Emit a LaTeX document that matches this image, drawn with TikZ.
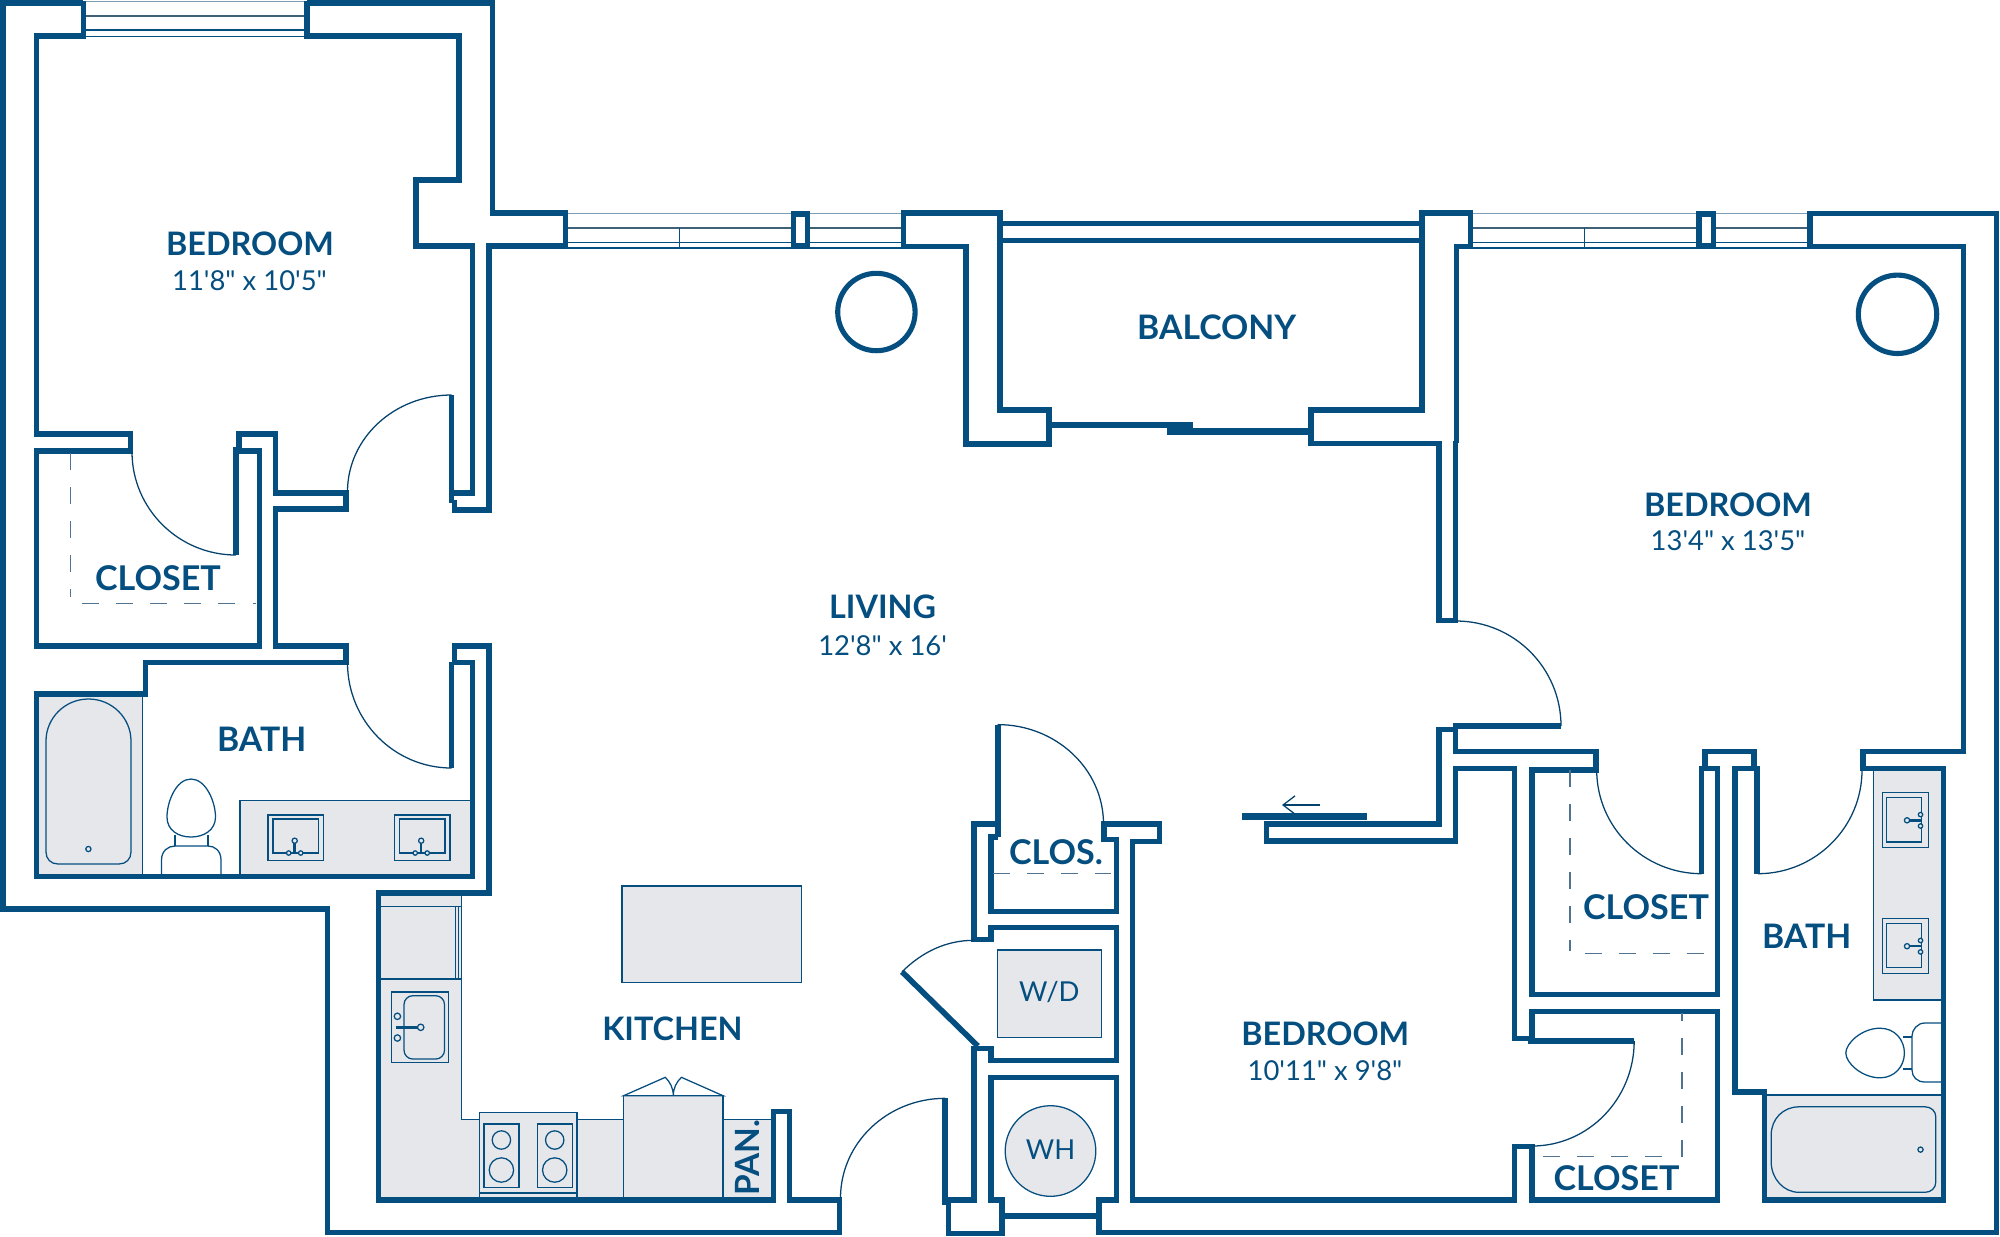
\documentclass[tikz,border=0pt]{standalone}
\usepackage{fontspec}
\newfontfamily\labfont{Lato}
\usetikzlibrary{arrows.meta}
\definecolor{wallblue}{HTML}{054E80}
\definecolor{fixgray}{HTML}{E5E7EB}
\definecolor{dashblue}{HTML}{4F7391}
\definecolor{winlight}{HTML}{7F9DB3}
\definecolor{windark}{HTML}{3F6177}
\newcommand{\qarc}[6]{%
  \pgfmathsetmacro\cax{#1+0.5523*(#3-#5)}%
  \pgfmathsetmacro\cay{#2+0.5523*(#4-#6)}%
  \pgfmathsetmacro\cbx{#3+0.5523*(#1-#5)}%
  \pgfmathsetmacro\cby{#4+0.5523*(#2-#6)}%
  \draw[hair] (#1,#2) .. controls (\cax,\cay) and (\cbx,\cby) .. (#3,#4);}
\newcommand{\winlines}[2]{%
  \draw[winl] (#1,213.5) -- (#2,213.5);
  \draw[wind] (#1,227.7) -- (#2,227.7);
  \draw[winm] (#1,242.3) -- (#2,242.3);
  \draw[winm] (#1,248) -- (#2,248);}
\newcommand{\bathsink}[1]{%
  \draw[fixture] (#1,815) rectangle +(55.5,45.7);
  \draw[fixline] (#1+5,819) rectangle +(45.5,34);
  \draw[fixline,fill=fixgray] (#1+26.7,840.7) circle (2.6);
  \draw[wallblue,line width=0.7pt] (#1+26.7,843.3) -- (#1+26.7,853);
  \draw[fixline,fill=fixgray] (#1+20.7,853) circle (2.2);
  \draw[fixline,fill=fixgray] (#1+32.7,853) circle (2.2);}
\newcommand{\sidesink}[1]{%
  \draw[fixture] (1882.2,#1) rectangle +(46.3,55.4);
  \draw[fixline] (1886.8,#1+5.1) rectangle +(34.8,44.5);
  \draw[wallblue,line width=0.7pt] (1907,#1+28) -- (1920.5,#1+28);
  \draw[fixline,fill=fixgray] (1907,#1+28) circle (2.6);
  \draw[fixline,fill=fixgray] (1920.5,#1+22.3) circle (2.2);
  \draw[fixline,fill=fixgray] (1920.5,#1+33.7) circle (2.2);}
\tikzset{
  wall/.style={draw=wallblue,line width=1.48pt,miter limit=10},
  leaf/.style={draw=wallblue,line width=1.6pt},
  hair/.style={draw=wallblue!85!black,line width=0.36pt},
  fixture/.style={draw=wallblue,line width=0.36pt,fill=fixgray},
  fixline/.style={draw=wallblue,line width=0.36pt},
  winl/.style={draw=winlight,line width=0.3pt},
  wind/.style={draw=windark,line width=0.55pt},
  winm/.style={draw=wallblue,line width=0.36pt},
  dashline/.style={draw=dashblue,line width=0.38pt,dash pattern=on 4.84pt off 4.84pt},
  roomname/.style={text=wallblue,inner sep=0pt,font=\labfont\bfseries\fontsize{#1}{11}\selectfont},
  roomname/.default=9.2,
  roomdim/.style={text=wallblue,inner sep=0pt,font=\labfont\fontsize{7.8}{9}\selectfont},
  unitname/.style={text=wallblue,inner sep=0pt,font=\labfont\fontsize{7.8}{9}\selectfont},
}
\begin{document}
\begin{tikzpicture}[x=0.01cm,y=-0.01cm]
\useasboundingbox (0,0) rectangle (2000,1236);
\fill[white] (0,0) rectangle (2000,1236);

% ---------- fills and fixtures
% left bath
\fill[fixgray] (36.4,694) rectangle (142.7,876.7);
\draw[fixline] (142.7,694) -- (142.7,876.7);
\draw[fixture] (46,741) .. controls (46,718) and (65,699) .. (88.5,699) .. controls (112,699) and (131,718) .. (131,741) -- (131,852) .. controls (131,859) and (126,864) .. (119,864) -- (58,864) .. controls (51,864) and (46,859) .. (46,852) -- cycle;
\draw[fixline] (88.4,849) circle (2.6);
\draw[fixline] (191,779) .. controls (176,779) and (167,802) .. (167,817) .. controls (167,830) and (178,837) .. (191,837) .. controls (204,837) and (215.5,830) .. (215.5,817) .. controls (215.5,802) and (206,779) .. (191,779) -- cycle;
\draw[fixline] (175,835) -- (175,846) (208,835) -- (208,846);
\draw[fixline] (161.5,876) -- (161.5,860) .. controls (161.5,851) and (168,846) .. (175,846) -- (208,846) .. controls (215,846) and (221,851) .. (221,860) -- (221,876);
\draw[fixture] (240,876.7) -- (240,800.7) -- (472.6,800.7) -- (472.6,876.7);
\bathsink{268}
\bathsink{394.5}
% kitchen
\draw[fixture] (378.3,893) -- (461.7,893) -- (461.7,1119.3) -- (773.6,1119.3) -- (773.6,1200) -- (378.3,1200) -- cycle;
\draw[fixline] (378.3,906.7) -- (461.7,906.7) (378.3,979) -- (461.7,979) (455.6,906.7) -- (455.6,979) (458.3,906.7) -- (458.3,979);
\draw[fixline] (391.3,992) rectangle (448.3,1062.7);
\draw[fixline,rounded corners=2.5] (404,995.7) rectangle (444.5,1059);
\draw[fixline,fill=fixgray] (397.4,1016.3) circle (3.2);
\draw[fixline,fill=fixgray] (397.4,1038) circle (3.2);
\draw[wallblue,line width=0.7pt] (396,1027.3) -- (417.5,1027.3);
\draw[fixline,fill=fixgray] (420.7,1027.3) circle (3.2);
\draw[fixture] (479.7,1200) -- (479.7,1112.3) -- (576.9,1112.3) -- (576.9,1200);
\draw[fixline] (479.7,1193) -- (576.9,1193);
\draw[fixline] (483.9,1124) rectangle (519,1187.3);
\draw[fixline] (537.5,1124) rectangle (572.7,1187.3);
\draw[fixline] (501.4,1140) circle (9.2) (501.4,1170) circle (12.2);
\draw[fixline] (554.7,1140) circle (9.2) (554.7,1170) circle (12.2);
\draw[fixture] (623.6,1200) -- (623.6,1095.7) -- (723,1095.7) -- (723,1200);
\draw[fixline,fill=white] (623.6,1095.7) -- (665.3,1077.3) .. controls (670,1082) and (673.3,1088) .. (673.3,1095.7) .. controls (673.3,1088) and (676.5,1082) .. (681.4,1077.3) -- (723,1095.7) -- cycle;
\draw[fixture] (622,886) rectangle (801.5,982.3);
% W/D and WH
\draw[fixture] (997.3,950) rectangle (1101.8,1037.4);
\draw[fixture] (1050.5,1151) circle (45.3);
% right bath
\draw[fixture] (1941.5,770) -- (1873.4,770) -- (1873.4,1000) -- (1941.5,1000);
\sidesink{792.3}
\sidesink{918.2}
\draw[fixline] (1845.8,1053) .. controls (1845.8,1043) and (1862,1028.2) .. (1880,1028.2) .. controls (1895,1028.2) and (1904.4,1040) .. (1904.4,1053) .. controls (1904.4,1066) and (1895,1077.8) .. (1880,1077.8) .. controls (1862,1077.8) and (1845.8,1063) .. (1845.8,1053) -- cycle;
\draw[fixline] (1903,1037) -- (1912,1037) (1903,1069) -- (1912,1069);
\draw[fixline] (1941.5,1023) -- (1925,1023) .. controls (1917,1023) and (1912,1030) .. (1912,1036) -- (1912,1070) .. controls (1912,1077) and (1917,1082) .. (1925,1082) -- (1941.5,1082);
\fill[fixgray] (1764.3,1094.9) rectangle (1941.5,1200);
\draw[fixline] (1764.3,1094.9) -- (1941.5,1094.9);
\draw[fixture] (1771.2,1135) .. controls (1771.2,1119) and (1783,1106.8) .. (1799,1106.8) -- (1925,1106.8) .. controls (1931,1106.8) and (1935.8,1111) .. (1935.8,1117) -- (1935.8,1182) .. controls (1935.8,1188) and (1931,1192.3) .. (1925,1192.3) -- (1799,1192.3) .. controls (1783,1192.3) and (1771.2,1178) .. (1771.2,1162) -- cycle;
\draw[fixline] (1920.5,1149.6) circle (2.6);

% ---------- windows
\draw[winl] (83.4,1.7) -- (307,1.7);
\draw[wind] (83.4,15.7) -- (307,15.7);
\draw[winm] (83.4,30) -- (307,30);
\draw[winm] (83.4,36.5) -- (307,36.5);
\winlines{565.6}{903.6}
\draw[winm] (679.4,227.7) -- (679.4,248);
\draw[wall,fill=white] (793.5,214) rectangle (807.5,246);
\winlines{1470.8}{1810}
\draw[winm] (1584.8,227.7) -- (1584.8,248);
\draw[wall,fill=white] (1699,214) rectangle (1713.3,246);

% ---------- walls
\draw[wall] (83.4,3) -- (3,3) -- (3,909) -- (327.6,909) -- (327.6,1232.7) -- (839.4,1232.7) -- (839.4,1200) -- (789.7,1200) -- (789.7,1111.7) -- (773.6,1111.7) -- (773.6,1200) -- (378.3,1200) -- (378.3,893) -- (489,893) -- (489,646) -- (454.6,646) -- (454.6,662);
\draw[wall] (307,3) -- (492.5,3) -- (492.5,213) -- (565.6,213) -- (565.6,246) -- (489,246) -- (489,510) -- (454.6,510) -- (454.6,500);
\draw[wall] (83.4,0.5) -- (83.4,36) -- (36.4,36) -- (36.4,434) -- (130.5,434) -- (130.5,451) -- (36.4,451) -- (36.4,646) -- (259.5,646) -- (259.5,451) -- (238,451);
\draw[wall] (239,448) -- (239,434) -- (275.5,434) -- (275.5,493) -- (346,493) -- (346,509) -- (275.5,509) -- (275.5,646) -- (346,646) -- (346,662.7) -- (145.4,662.7) -- (145.4,694) -- (36.4,694) -- (36.4,876.7) -- (472.6,876.7) -- (472.6,662.3) -- (451.6,662.3);
\draw[wall] (307,0.5) -- (307,36) -- (459,36) -- (459,180) -- (416,180) -- (416,246) -- (472.6,246) -- (472.6,493) -- (451.6,493);
\draw[wall] (903.6,246.7) -- (903.6,213) -- (1000,213) -- (1000,410) -- (1049,410) -- (1049,444) -- (966,444) -- (966,246.7) -- cycle;
\draw[wall] (1000,223.7) -- (1422,223.7) (1000,240.3) -- (1422,240.3);
\draw[wall] (1456.3,443) -- (1456.3,246.7) -- (1470.8,246.7) -- (1470.8,213) -- (1422,213) -- (1422,410) -- (1311,410) -- (1311,443.7) -- (1439,443.7) -- (1439,620.7) -- (1455.3,620.7) -- (1455.3,441);
\draw[wall] (1810,246.7) -- (1810,213.3) -- (1996.3,213.3) -- (1996.3,1232.7) -- (1099,1232.7) -- (1099,1200) -- (1116.3,1200) -- (1116.3,1077.8) -- (991,1077.8) -- (991,1200) -- (1001.9,1200) -- (1001.9,1233.3) -- (948.3,1233.3) -- (948.3,1200) -- (974,1200) -- (974,1048.7) -- (991,1048.7) -- (991,1060.7) -- (1116.3,1060.7) -- (1116.3,927.4) -- (991,927.4) -- (991,939.3) -- (974,939.3) -- (974,824) -- (997,824);
\draw[wall] (1001.9,1216) -- (1099,1216);
\draw[wall] (997.7,837) -- (991,837) -- (991,911.3) -- (1116.3,911.3) -- (1116.3,839.5) -- (1104,839.5) -- (1104,824) -- (1159.6,824) -- (1159.6,841.2) -- (1132.8,841.2) -- (1132.8,1200) -- (1514.8,1200) -- (1514.8,1146.8) -- (1532,1146.8) -- (1532,1200) -- (1717.6,1200) -- (1717.6,1011.8) -- (1532,1011.8) -- (1532,1038.5) -- (1514.8,1038.5) -- (1514.8,768.4) -- (1455.5,768.4) -- (1455.5,841) -- (1266.7,841) -- (1266.7,824) -- (1439,824) -- (1439,729.3) -- (1455.3,729.3);
\draw[wall] (1455.3,726) -- (1455.3,751.5) -- (1596,751.5) -- (1596,770) -- (1532,770) -- (1532,994.7) -- (1717.6,994.7) -- (1717.6,768.4) -- (1702,768.4);
\draw[wall] (1705,766) -- (1705,751.3) -- (1754,751.3) -- (1754,768.4);
\draw[wall] (1756.7,768.4) -- (1734.9,768.4) -- (1734.9,1092) -- (1764.3,1092) -- (1764.3,1200) -- (1943.4,1200) -- (1943.4,768.4) -- (1863,768.4) -- (1863,751.3) -- (1963.7,751.3) -- (1963.7,246.7) -- (1810,246.7);

% ---------- door leaves
\draw[leaf] (451.6,395) -- (451.6,503);
\draw[leaf] (451.6,662) -- (451.6,768);
\draw[leaf] (236,447) -- (236,555);
\draw[leaf] (997.7,724.6) -- (997.7,837);
\draw[leaf] (945.2,1098.3) -- (945.2,1205.3);
\draw[leaf] (902,971.8) -- (977.8,1046);
\draw[leaf,line width=1.9pt] (1453.3,726) -- (1561,726);
\draw[leaf] (1701.6,766) -- (1701.6,873.7);
\draw[leaf] (1756.7,766) -- (1756.7,873.7);
\draw[leaf] (1528,1040.8) -- (1634.2,1040.8);
\draw[wallblue,line width=1.95pt] (1241.8,816.2) -- (1367,816.2);
\draw[wallblue,line width=1.6pt] (1052,425) -- (1193,425);
\draw[wallblue,line width=1.9pt] (1167.3,431.7) -- (1309.7,431.7);
\draw[hair,-{Straight Barb[length=3.4pt,width=5.2pt]}] (1320,805) -- (1282,805);

% ---------- door swings
\qarc{451.6}{395}{347.5}{491.7}{451.6}{491.7}
\qarc{132}{451.7}{236}{555}{236}{451.7}
\qarc{347.5}{662.7}{451.6}{768}{451.6}{662.7}
\qarc{997.7}{724.6}{1103.5}{824}{997.7}{824}
\qarc{945.2}{1098.3}{840.5}{1198}{945.2}{1198}
\draw[hair] (902,971.8) .. controls (922,952) and (946,940.3) .. (974,940.3);
\qarc{1456}{621}{1561}{726}{1456}{726}
\qarc{1596.7}{770}{1701.6}{873.7}{1701.6}{770}
\qarc{1862}{770}{1757.8}{873.7}{1757.8}{770}
\qarc{1634.2}{1040.8}{1532}{1146}{1532}{1040.8}

% ---------- columns
\draw[wallblue,line width=1.45pt] (876.4,312) circle (38.7);
\draw[wallblue,line width=1.45pt] (1897.5,314.3) circle (39.2);

% ---------- dashed closet lines
\draw[dashline] (70.8,453) -- (70.8,597);
\draw[dashline] (82.3,603.3) -- (256.4,603.3);
\draw[dashline] (993,873.7) -- (1111,873.7);
\draw[dashline] (1569.9,770) -- (1569.9,951.3);
\draw[dashline] (1584.5,953.7) -- (1706,953.7);
\draw[dashline] (1682,1157) -- (1682,1012.8);
\draw[dashline] (1542.7,1156.4) -- (1664,1156.4);

% ---------- texts
\node[roomname] (bedA) at (250,244) {BEDROOM};
\node[roomdim] (bedAd) at (249.5,280.7) {11'8" x 10'5"};
\node[roomname=9.7] (closA) at (158,578.3) {CLOSET};
\node[roomname=9.6] (bathA) at (261.7,739) {BATH};
\node[roomname=9.6] (balc) at (1216.7,327.7) {BALCONY};
\node[roomname] (liv) at (882.6,607) {LIVING};
\node[roomdim] (livd) at (882.6,645.4) {12'8" x 16'};
\node[roomname] (bedB) at (1728,505) {BEDROOM};
\node[roomdim] (bedBd) at (1728,541) {13'4" x 13'5"};
\node[roomname] (kit) at (672.4,1029) {KITCHEN};
\node[roomname=9.5,rotate=90] (pan) at (747.6,1158) {PAN.};
\node[roomname=9.7] (clos) at (1056,852.5) {CLOS.};
\node[unitname] (wd) at (1049.3,992.3) {W/D};
\node[unitname] (wh) at (1050.5,1150) {WH};
\node[roomname] (bedC) at (1325.3,1033.3) {BEDROOM};
\node[roomdim] (bedCd) at (1325,1070.3) {10'11" x 9'8"};
\node[roomname=9.7] (closB) at (1646,907.5) {CLOSET};
\node[roomname=9.6] (bathB) at (1806.6,936) {BATH};
\node[roomname=9.7] (closC) at (1616.5,1178.6) {CLOSET};
\end{tikzpicture}
\end{document}
